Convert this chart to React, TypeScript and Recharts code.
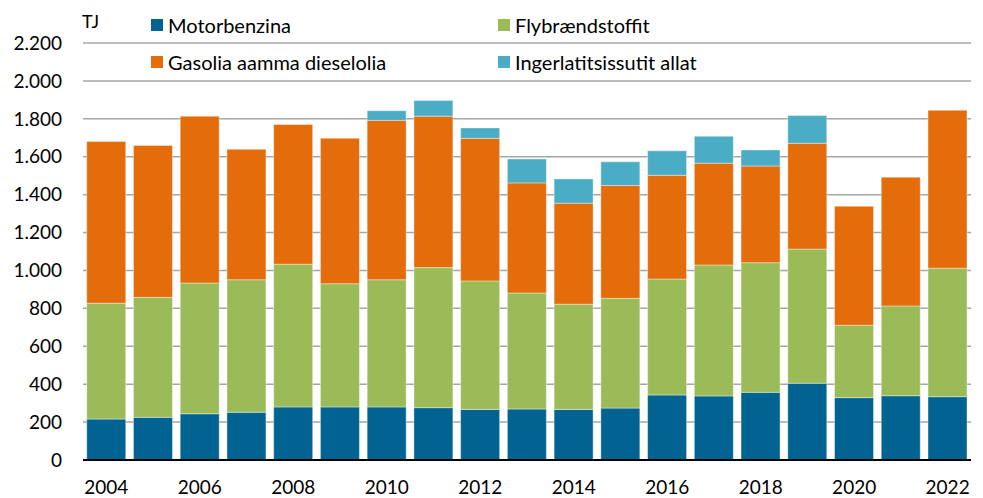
import React from 'react';
import { BarChart, Bar, XAxis, YAxis, CartesianGrid } from 'recharts';

const years = [
  '2004', '2005', '2006', '2007', '2008', '2009', '2010', '2011', '2012', '2013',
  '2014', '2015', '2016', '2017', '2018', '2019', '2020', '2021', '2022',
];

const motorbenzina = [216, 225, 244, 252, 280, 280, 280, 276, 267, 269, 267, 274, 343, 338, 357, 405, 329, 339, 334];
const flybraendstoffit = [611, 633, 690, 699, 753, 650, 671, 739, 678, 612, 555, 579, 612, 691, 684, 708, 382, 474, 678];
const gasolia = [853, 801, 880, 688, 737, 767, 841, 799, 752, 581, 533, 595, 547, 537, 510, 558, 628, 679, 833];
const ingerlatitsissutit = [0, 0, 0, 0, 0, 0, 51, 82, 55, 126, 128, 125, 129, 142, 85, 146, 0, 0, 0];

const yTicks = [0, 200, 400, 600, 800, 1000, 1200, 1400, 1600, 1800, 2000, 2200];

const series = [
  { key: 'motor', name: 'Motorbenzina', color: '#006391' },
  { key: 'fly', name: 'Flybrændstoffit', color: '#9bbb59' },
  { key: 'gas', name: 'Gasolia aamma dieselolia', color: '#e46c0a' },
  { key: 'ing', name: 'Ingerlatitsissutit allat', color: '#4bacc6' },
];

const data = years.map((year, i) => ({
  year,
  motor: motorbenzina[i],
  fly: flybraendstoffit[i],
  gas: gasolia[i],
  ing: ingerlatitsissutit[i],
}));

const FONT = 'Lato, "Open Sans", sans-serif';

const fmt = (v: number) => v.toString().replace(/\B(?=(\d{3})+(?!\d))/g, '.');

// legend sits over the top of the plot in two columns, so it is drawn as plain html
const LegendBox = () => {
  const cell = (s: typeof series[number]) => (
    <div key={s.key} style={{ display: 'flex', alignItems: 'center', height: 37 }}>
      <span style={{ width: 12, height: 12, background: s.color, marginRight: 5 }} />
      <span>{s.name}</span>
    </div>
  );
  return (
    <div
      style={{
        position: 'absolute',
        left: 151,
        top: 6,
        display: 'flex',
        fontFamily: FONT,
        fontSize: 20,
        color: '#000',
        whiteSpace: 'nowrap',
      }}
    >
      <div style={{ width: 347 }}>
        {cell(series[0])}
        {cell(series[2])}
      </div>
      <div>
        {cell(series[1])}
        {cell(series[3])}
      </div>
    </div>
  );
};

export default function App() {
  return (
    <div style={{ position: 'absolute', left: 0, top: 0, width: 983, height: 498, background: '#fff' }}>
      <BarChart
        width={983}
        height={498}
        data={data}
        margin={{ top: 43, right: 12, bottom: 0, left: 0 }}
        barCategoryGap="8%"
      >
        <CartesianGrid vertical={false} stroke="#a6a6a6" strokeWidth={1.5} />
        <XAxis
          dataKey="year"
          interval={1}
          height={38}
          tickLine={false}
          axisLine={{ stroke: '#000', strokeWidth: 2 }}
          tick={{ fill: '#000', fontSize: 19, fontFamily: FONT }}
          tickMargin={15}
        />
        <YAxis
          domain={[0, 2200]}
          ticks={yTicks}
          width={83}
          tickLine={false}
          axisLine={false}
          tickFormatter={fmt}
          tick={{ fill: '#000', fontSize: 19, fontFamily: FONT }}
          tickMargin={15}
        />
        {series.map((s) => (
          <Bar
            key={s.key}
            dataKey={s.key}
            name={s.name}
            stackId="a"
            fill={s.color}
            stroke="#ffffff"
            strokeOpacity={0.4}
            strokeWidth={1}
            isAnimationActive={false}
          />
        ))}
      </BarChart>
      <div style={{ position: 'absolute', left: 82, top: 10, fontFamily: FONT, fontSize: 18 }}>TJ</div>
      <LegendBox />
    </div>
  );
}
